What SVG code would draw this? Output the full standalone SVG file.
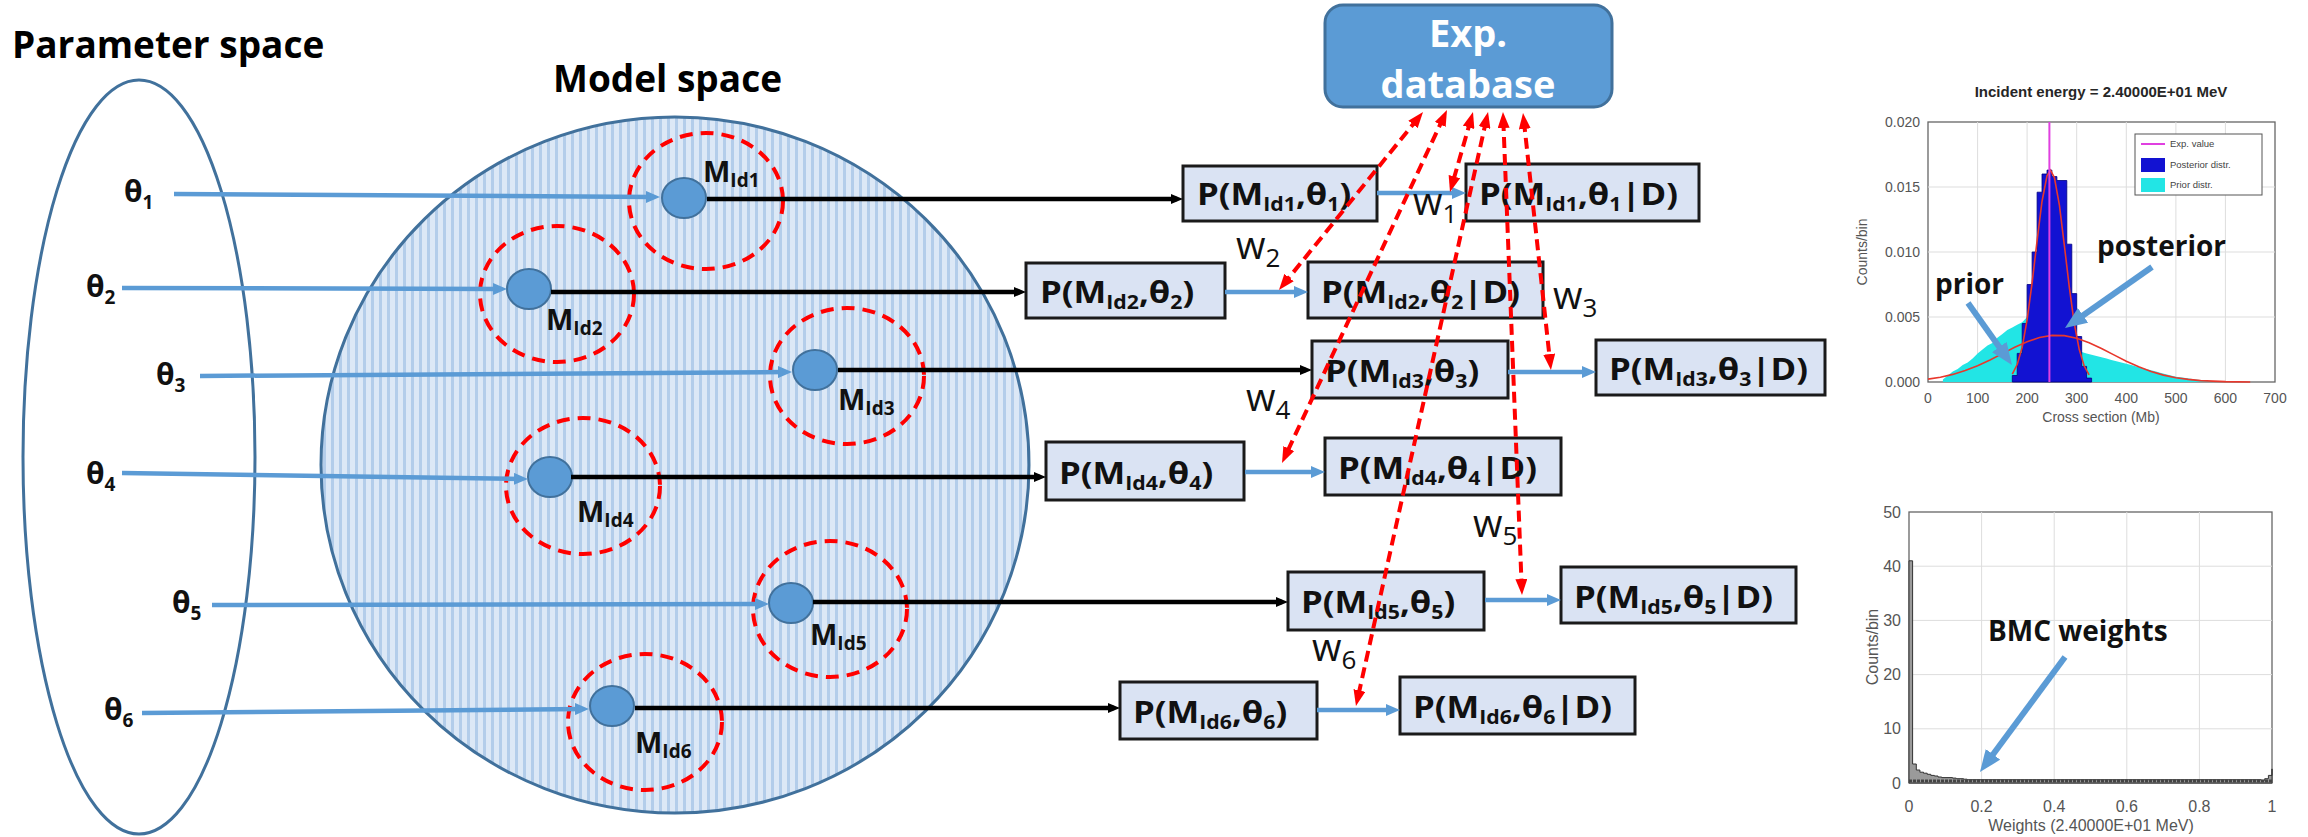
<svg xmlns="http://www.w3.org/2000/svg" width="2308" height="837" viewBox="0 0 2308 837">
<style>
.ttl{font-family:"Open Sans","Liberation Sans",sans-serif;font-weight:bold;font-size:37px;fill:#000}
.th{font-family:"Open Sans","Liberation Sans",sans-serif;font-weight:bold;font-size:30px;fill:#111}
.ml{font-family:"Open Sans","Liberation Sans",sans-serif;font-weight:bold;font-size:29px;fill:#111}
.pt{font-family:"Open Sans","Liberation Sans",sans-serif;font-weight:bold;font-size:31px;fill:#111}
.s{font-size:19px}
.w{font-family:"Open Sans","Liberation Sans",sans-serif;font-size:38px;fill:#111}
.ws{font-size:26px}
.db{font-family:"Open Sans","Liberation Sans",sans-serif;font-weight:bold;font-size:38px;fill:#fff;text-anchor:middle}
.box{fill:#DAE3F3;stroke:#1a1a1a;stroke-width:3}
.node{fill:#5B9BD5;stroke:#41719C;stroke-width:2}
.dash{fill:none;stroke:#FF0000;stroke-width:4;stroke-dasharray:13 8}
.ba{fill:none;stroke:#5B9BD5;stroke-width:4.5;marker-end:url(#mb)}
.ka{fill:none;stroke:#000;stroke-width:4.5;marker-end:url(#mk)}
.ra{fill:none;stroke:#FF0000;stroke-width:4;stroke-dasharray:11 6;marker-start:url(#mr);marker-end:url(#mr)}
.big{fill:none;stroke:#5B9BD5;stroke-width:6;marker-end:url(#mB)}
.ax{font-family:"Liberation Sans",Arial,sans-serif;font-size:14px;fill:#555}
.ax2{font-family:"Liberation Sans",Arial,sans-serif;font-size:16px;fill:#555}
.grid{stroke:#DDDDDD;stroke-width:1}
.frame{fill:#fff;stroke:#666;stroke-width:1.3}
.ann{font-family:"Open Sans","Liberation Sans",sans-serif;font-weight:bold;font-size:28px;fill:#111}
.lg{font-family:"Liberation Sans",Arial,sans-serif;font-size:9.5px;fill:#444}
</style>
<defs>
<pattern id="stripes" patternUnits="userSpaceOnUse" width="8" height="8">
<rect width="8" height="8" fill="#DCE8F6"/>
<rect x="3" y="0" width="3" height="8" fill="#B3CDEA"/>
</pattern>
<marker id="mb" viewBox="0 0 14 12" refX="7" refY="6" markerWidth="14" markerHeight="12" markerUnits="userSpaceOnUse" orient="auto"><path d="M0,0 L14,6 L0,12 z" fill="#5B9BD5"/></marker>
<marker id="mk" viewBox="0 0 12 10" refX="6" refY="5" markerWidth="12" markerHeight="10" markerUnits="userSpaceOnUse" orient="auto"><path d="M0,0 L12,5 L0,10 z" fill="#000"/></marker>
<marker id="mr" viewBox="0 0 16 12" refX="8" refY="6" markerWidth="16" markerHeight="12" markerUnits="userSpaceOnUse" orient="auto-start-reverse"><path d="M0,0 L16,6 L0,12 z" fill="#FF0000"/></marker>
<marker id="mB" viewBox="0 0 22 18" refX="11" refY="9" markerWidth="22" markerHeight="18" markerUnits="userSpaceOnUse" orient="auto"><path d="M0,0 L22,9 L0,18 z" fill="#5B9BD5"/></marker>
</defs>
<rect width="2308" height="837" fill="#fff"/>

<g id="parameter-space">
<ellipse cx="139" cy="457" rx="116" ry="377" fill="none" stroke="#41719C" stroke-width="3"/>
<text class="ttl" x="12" y="58">Parameter space</text>
<text class="th" x="124" y="202">θ<tspan class="s" dy="7">1</tspan></text>
<text class="th" x="86" y="297">θ<tspan class="s" dy="7">2</tspan></text>
<text class="th" x="156" y="385">θ<tspan class="s" dy="7">3</tspan></text>
<text class="th" x="86" y="484">θ<tspan class="s" dy="7">4</tspan></text>
<text class="th" x="172" y="613">θ<tspan class="s" dy="7">5</tspan></text>
<text class="th" x="104" y="720">θ<tspan class="s" dy="7">6</tspan></text>
</g>

<g id="model-space">
<ellipse cx="675" cy="465" rx="354" ry="348" fill="url(#stripes)" stroke="#41719C" stroke-width="3"/>
<text class="ttl" x="553" y="92">Model space</text>
</g>

<g id="model-1"><ellipse class="dash" cx="706" cy="201" rx="77" ry="68"/><ellipse class="node" cx="684" cy="198" rx="22" ry="20"/><text class="ml" x="703" y="182">M<tspan class="s" dy="5">Id1</tspan></text></g>
<g id="model-2"><ellipse class="dash" cx="557" cy="294" rx="77" ry="68"/><ellipse class="node" cx="529" cy="289" rx="22" ry="20"/><text class="ml" x="546" y="330">M<tspan class="s" dy="5">Id2</tspan></text></g>
<g id="model-3"><ellipse class="dash" cx="847" cy="376" rx="77" ry="68"/><ellipse class="node" cx="815" cy="370" rx="22" ry="20"/><text class="ml" x="838" y="410">M<tspan class="s" dy="5">Id3</tspan></text></g>
<g id="model-4"><ellipse class="dash" cx="583" cy="486" rx="77" ry="68"/><ellipse class="node" cx="550" cy="477" rx="22" ry="20"/><text class="ml" x="577" y="522">M<tspan class="s" dy="5">Id4</tspan></text></g>
<g id="model-5"><ellipse class="dash" cx="830" cy="609" rx="77" ry="68"/><ellipse class="node" cx="791" cy="603" rx="22" ry="20"/><text class="ml" x="810" y="645">M<tspan class="s" dy="5">Id5</tspan></text></g>
<g id="model-6"><ellipse class="dash" cx="645" cy="722" rx="77" ry="68"/><ellipse class="node" cx="612" cy="706" rx="22" ry="20"/><text class="ml" x="635" y="753">M<tspan class="s" dy="5">Id6</tspan></text></g>

<g id="exp-database">
<rect x="1325" y="5" width="287" height="102" rx="18" fill="#5B9BD5" stroke="#41719C" stroke-width="3"/>
<text class="db" x="1468" y="47">Exp.</text>
<text class="db" x="1468" y="98">database</text>
</g>

<g id="prior-1"><rect class="box" x="1183" y="166" width="194" height="55"/><text class="pt" transform="translate(1197,205) scale(1.12,1)">P(M<tspan class="s" dy="6">Id1</tspan><tspan dy="-6">,θ</tspan><tspan class="s" dy="6">1</tspan><tspan dy="-6">)</tspan></text></g>
<g id="post-1"><rect class="box" x="1466" y="164" width="233" height="57"/><text class="pt" transform="translate(1479,205) scale(1.12,1)">P(M<tspan class="s" dy="6">Id1</tspan><tspan dy="-6">,θ</tspan><tspan class="s" dy="6">1</tspan><tspan dy="-6">|D)</tspan></text></g>
<g id="prior-2"><rect class="box" x="1026" y="263" width="199" height="55"/><text class="pt" transform="translate(1040,303) scale(1.12,1)">P(M<tspan class="s" dy="6">Id2</tspan><tspan dy="-6">,θ</tspan><tspan class="s" dy="6">2</tspan><tspan dy="-6">)</tspan></text></g>
<g id="post-2"><rect class="box" x="1308" y="262" width="235" height="56"/><text class="pt" transform="translate(1321,303) scale(1.12,1)">P(M<tspan class="s" dy="6">Id2</tspan><tspan dy="-6">,θ</tspan><tspan class="s" dy="6">2</tspan><tspan dy="-6">|D)</tspan></text></g>
<g id="prior-3"><rect class="box" x="1312" y="341" width="196" height="57"/><text class="pt" transform="translate(1325,382) scale(1.12,1)">P(M<tspan class="s" dy="6">Id3</tspan><tspan dy="-6">,θ</tspan><tspan class="s" dy="6">3</tspan><tspan dy="-6">)</tspan></text></g>
<g id="post-3"><rect class="box" x="1596" y="340" width="229" height="55"/><text class="pt" transform="translate(1609,380) scale(1.12,1)">P(M<tspan class="s" dy="6">Id3</tspan><tspan dy="-6">,θ</tspan><tspan class="s" dy="6">3</tspan><tspan dy="-6">|D)</tspan></text></g>
<g id="prior-4"><rect class="box" x="1046" y="442" width="198" height="58"/><text class="pt" transform="translate(1059,484) scale(1.12,1)">P(M<tspan class="s" dy="6">Id4</tspan><tspan dy="-6">,θ</tspan><tspan class="s" dy="6">4</tspan><tspan dy="-6">)</tspan></text></g>
<g id="post-4"><rect class="box" x="1325" y="438" width="236" height="57"/><text class="pt" transform="translate(1338,479) scale(1.12,1)">P(M<tspan class="s" dy="6">Id4</tspan><tspan dy="-6">,θ</tspan><tspan class="s" dy="6">4</tspan><tspan dy="-6">|D)</tspan></text></g>
<g id="prior-5"><rect class="box" x="1288" y="572" width="196" height="58"/><text class="pt" transform="translate(1301,613) scale(1.12,1)">P(M<tspan class="s" dy="6">Id5</tspan><tspan dy="-6">,θ</tspan><tspan class="s" dy="6">5</tspan><tspan dy="-6">)</tspan></text></g>
<g id="post-5"><rect class="box" x="1561" y="567" width="235" height="56"/><text class="pt" transform="translate(1574,608) scale(1.12,1)">P(M<tspan class="s" dy="6">Id5</tspan><tspan dy="-6">,θ</tspan><tspan class="s" dy="6">5</tspan><tspan dy="-6">|D)</tspan></text></g>
<g id="prior-6"><rect class="box" x="1120" y="682" width="197" height="57"/><text class="pt" transform="translate(1133,723) scale(1.12,1)">P(M<tspan class="s" dy="6">Id6</tspan><tspan dy="-6">,θ</tspan><tspan class="s" dy="6">6</tspan><tspan dy="-6">)</tspan></text></g>
<g id="post-6"><rect class="box" x="1400" y="677" width="235" height="57"/><text class="pt" transform="translate(1413,718) scale(1.12,1)">P(M<tspan class="s" dy="6">Id6</tspan><tspan dy="-6">,θ</tspan><tspan class="s" dy="6">6</tspan><tspan dy="-6">|D)</tspan></text></g>

<g id="connectors">
<path class="ba" d="M174,194 L653,197"/>
<path class="ba" d="M122,288 L500,289"/>
<path class="ba" d="M200,376 L785,372"/>
<path class="ba" d="M122,473 L521,479"/>
<path class="ba" d="M212,605 L762,604"/>
<path class="ba" d="M142,713 L582,709"/>
<path class="ka" d="M707,199 L1177,199"/>
<path class="ka" d="M551,292 L1020,292"/>
<path class="ka" d="M838,370 L1306,370"/>
<path class="ka" d="M571,477 L1040,477"/>
<path class="ka" d="M813,602 L1282,602"/>
<path class="ka" d="M635,708 L1114,708"/>
<path class="ba" d="M1377,193 L1459,193"/>
<path class="ba" d="M1225,292 L1301,292"/>
<path class="ba" d="M1508,372 L1589,372"/>
<path class="ba" d="M1245,472 L1318,472"/>
<path class="ba" d="M1485,600 L1554,600"/>
<path class="ba" d="M1317,710 L1393,710"/>
<path class="ra" d="M1470.8,119.7 L1452.2,184.3"/>
<path class="ra" d="M1418,118.2 L1284,283.8"/>
<path class="ra" d="M1523.9,121 L1550.1,362"/>
<path class="ra" d="M1443.6,117.2 L1285.4,455.8"/>
<path class="ra" d="M1503.3,120 L1521.7,587"/>
<path class="ra" d="M1486.3,119.8 L1357.7,698.2"/>
</g>

<g id="weights">
<text class="w" x="1413" y="215">w<tspan class="ws" dy="8">1</tspan></text>
<text class="w" x="1236" y="259">w<tspan class="ws" dy="8">2</tspan></text>
<text class="w" x="1553" y="309">w<tspan class="ws" dy="8">3</tspan></text>
<text class="w" x="1246" y="411">w<tspan class="ws" dy="8">4</tspan></text>
<text class="w" x="1473" y="537">w<tspan class="ws" dy="8">5</tspan></text>
<text class="w" x="1312" y="661">w<tspan class="ws" dy="8">6</tspan></text>
</g>

<g id="chart-cross-section">
<rect class="frame" x="1928" y="122" width="347" height="260"/>
<g class="grid">
<line x1="1977.6" y1="122" x2="1977.6" y2="382"/><line x1="2027.1" y1="122" x2="2027.1" y2="382"/><line x1="2076.7" y1="122" x2="2076.7" y2="382"/><line x1="2126.3" y1="122" x2="2126.3" y2="382"/><line x1="2175.9" y1="122" x2="2175.9" y2="382"/><line x1="2225.4" y1="122" x2="2225.4" y2="382"/>
<line x1="1928" y1="187" x2="2275" y2="187"/><line x1="1928" y1="252" x2="2275" y2="252"/><line x1="1928" y1="317" x2="2275" y2="317"/>
</g>
<path fill="#22E5E5" d="M1942.9,382 L1942.9,379.4 L1947.8,375.5 L1952.8,371.6 L1957.7,369 L1962.7,365.1 L1967.7,362.5 L1972.6,358.6 L1977.6,353.4 L1982.5,349.5 L1987.5,345.6 L1992.4,343 L1997.4,337.8 L2002.4,333.9 L2007.3,330 L2012.3,327.4 L2017.2,324.8 L2022.2,322.2 L2027.1,317 L2032.1,318.3 L2037.1,320.9 L2042,319.6 L2047,317 L2051.9,322.2 L2056.9,327.4 L2061.8,330 L2066.8,335.2 L2071.8,343 L2076.7,348.2 L2081.7,352.1 L2086.6,353.4 L2091.6,354.7 L2096.5,356 L2101.5,357.3 L2106.5,358.6 L2111.4,359.9 L2116.4,361.2 L2121.3,362.5 L2126.3,363.8 L2131.2,365.1 L2136.2,366.4 L2141.2,367.7 L2146.1,369 L2151.1,370.3 L2156,371.6 L2161,372.9 L2165.9,374.2 L2170.9,375.5 L2175.9,376.8 L2185.8,378.1 L2195.7,379.4 L2205.6,380.7 L2225.4,382 Z"/>
<path fill="#1212D2" stroke="#000080" stroke-width="0.8" d="M2012.3,382 V375.5 H2017.2 V353.4 H2022.2 V323.5 H2027.1 V284.5 H2032.1 V252 H2037.1 V192.2 H2042 V174 H2047 V170.1 H2051.9 V176.6 H2056.9 V180.5 H2066.8 V244.2 H2071.8 V293.6 H2076.7 V336.5 H2081.7 V366.4 H2086.6 V378.1 H2091.6 V382 Z"/>
<polyline fill="none" stroke="#E8372C" stroke-width="1.6" points="1928,379.1 1940.4,377.2 1952.8,374.4 1965.2,370.6 1977.6,365.7 1990,360 2002.4,353.6 2014.7,347.3 2027.1,341.7 2039.5,337.5 2051.9,335.4 2064.3,335.6 2076.7,338.2 2089.1,342.7 2101.5,348.5 2113.9,354.9 2126.3,361.2 2138.7,366.8 2151.1,371.5 2163.5,375.1 2175.9,377.7 2188.2,379.4 2200.6,380.6 2225.4,381.6 2250.2,382"/>
<polyline fill="none" stroke="#E8372C" stroke-width="1.6" points="2012.3,374.1 2017.2,364.5 2022.2,347.2 2027.1,319.9 2032.1,282.9 2037.1,240.7 2042,201.5 2047,175.8 2050.4,170.1 2054.4,177.5 2059.4,205.1 2064.3,245 2069.3,287.1 2074.2,323.1 2079.2,349.3 2084.1,365.8 2089.1,374.8"/>
<line x1="2049.4" y1="122" x2="2049.4" y2="382" stroke="#E040E0" stroke-width="2"/>
<rect x="2135" y="134" width="127" height="61" fill="#fff" stroke="#555" stroke-width="1"/>
<line x1="2141" y1="144" x2="2165" y2="144" stroke="#E040E0" stroke-width="2"/>
<text class="lg" x="2170" y="147">Exp. value</text>
<rect x="2141" y="158" width="24" height="14" fill="#1212D2"/>
<text class="lg" x="2170" y="168">Posterior distr.</text>
<rect x="2141" y="178" width="24" height="14" fill="#22E5E5"/>
<text class="lg" x="2170" y="188">Prior distr.</text>
<text x="2101" y="97" text-anchor="middle" font-family="Liberation Sans, Arial, sans-serif" font-weight="bold" font-size="15" fill="#262626">Incident energy = 2.40000E+01 MeV</text>
<g class="ax" text-anchor="end">
<text x="1920" y="127">0.020</text><text x="1920" y="192">0.015</text><text x="1920" y="257">0.010</text><text x="1920" y="322">0.005</text><text x="1920" y="387">0.000</text>
</g>
<g class="ax" text-anchor="middle" font-size="15">
<text x="1928" y="403">0</text><text x="1977.6" y="403">100</text><text x="2027.1" y="403">200</text><text x="2076.7" y="403">300</text><text x="2126.3" y="403">400</text><text x="2175.9" y="403">500</text><text x="2225.4" y="403">600</text><text x="2275" y="403">700</text>
<text x="2101" y="422">Cross section (Mb)</text>
</g>
<text class="ax" text-anchor="middle" transform="translate(1867,252) rotate(-90)">Counts/bin</text>
<text class="ann" x="1935" y="294">prior</text>
<text class="ann" x="2097" y="256">posterior</text>
<path class="big" d="M1968,303 L2005.6,356"/>
<path class="big" d="M2152,267 L2074,321.7"/>
</g>

<g id="chart-weights">
<rect class="frame" x="1909" y="512" width="363" height="271"/>
<g class="grid">
<line x1="1981.6" y1="512" x2="1981.6" y2="783"/><line x1="2054.2" y1="512" x2="2054.2" y2="783"/><line x1="2126.8" y1="512" x2="2126.8" y2="783"/><line x1="2199.4" y1="512" x2="2199.4" y2="783"/>
<line x1="1909" y1="566.2" x2="2272" y2="566.2"/><line x1="1909" y1="620.4" x2="2272" y2="620.4"/><line x1="1909" y1="674.6" x2="2272" y2="674.6"/><line x1="1909" y1="728.8" x2="2272" y2="728.8"/>
</g>
<path fill="#9A9A9A" stroke="#333" stroke-width="1" d="M1909,783 V560.8 H1912.6 V764 H1916.3 V770 H1919.9 V772.2 H1923.5 V773.2 H1927.2 V774.3 H1930.8 V775.4 H1934.4 V776 H1938 V777 H1941.7 V777.6 H1952.6 V778.1 H1956.2 V778.7 H1963.5 V779.2 H1967.1 V779.7 H2261.1 V780.3 H2264.7 V778.7 H2268.4 V775.4 H2272 V768.9 V783 Z"/>
<line x1="1909" y1="781" x2="2272" y2="781" stroke="#444" stroke-width="3" stroke-dasharray="3 1"/>
<g class="ax2" text-anchor="end">
<text x="1901" y="518">50</text><text x="1901" y="572">40</text><text x="1901" y="626">30</text><text x="1901" y="680">20</text><text x="1901" y="734">10</text><text x="1901" y="789">0</text>
</g>
<g class="ax2" text-anchor="middle">
<text x="1909" y="812">0</text><text x="1981.6" y="812">0.2</text><text x="2054.2" y="812">0.4</text><text x="2126.8" y="812">0.6</text><text x="2199.4" y="812">0.8</text><text x="2272" y="812">1</text>
<text x="2091" y="831">Weights (2.40000E+01 MeV)</text>
</g>
<text class="ax2" text-anchor="middle" transform="translate(1878,647) rotate(-90)">Counts/bin</text>
<text class="ann" x="1988" y="641">BMC weights</text>
<path class="big" d="M2065,657 L1986.5,763.2"/>
</g>
</svg>
